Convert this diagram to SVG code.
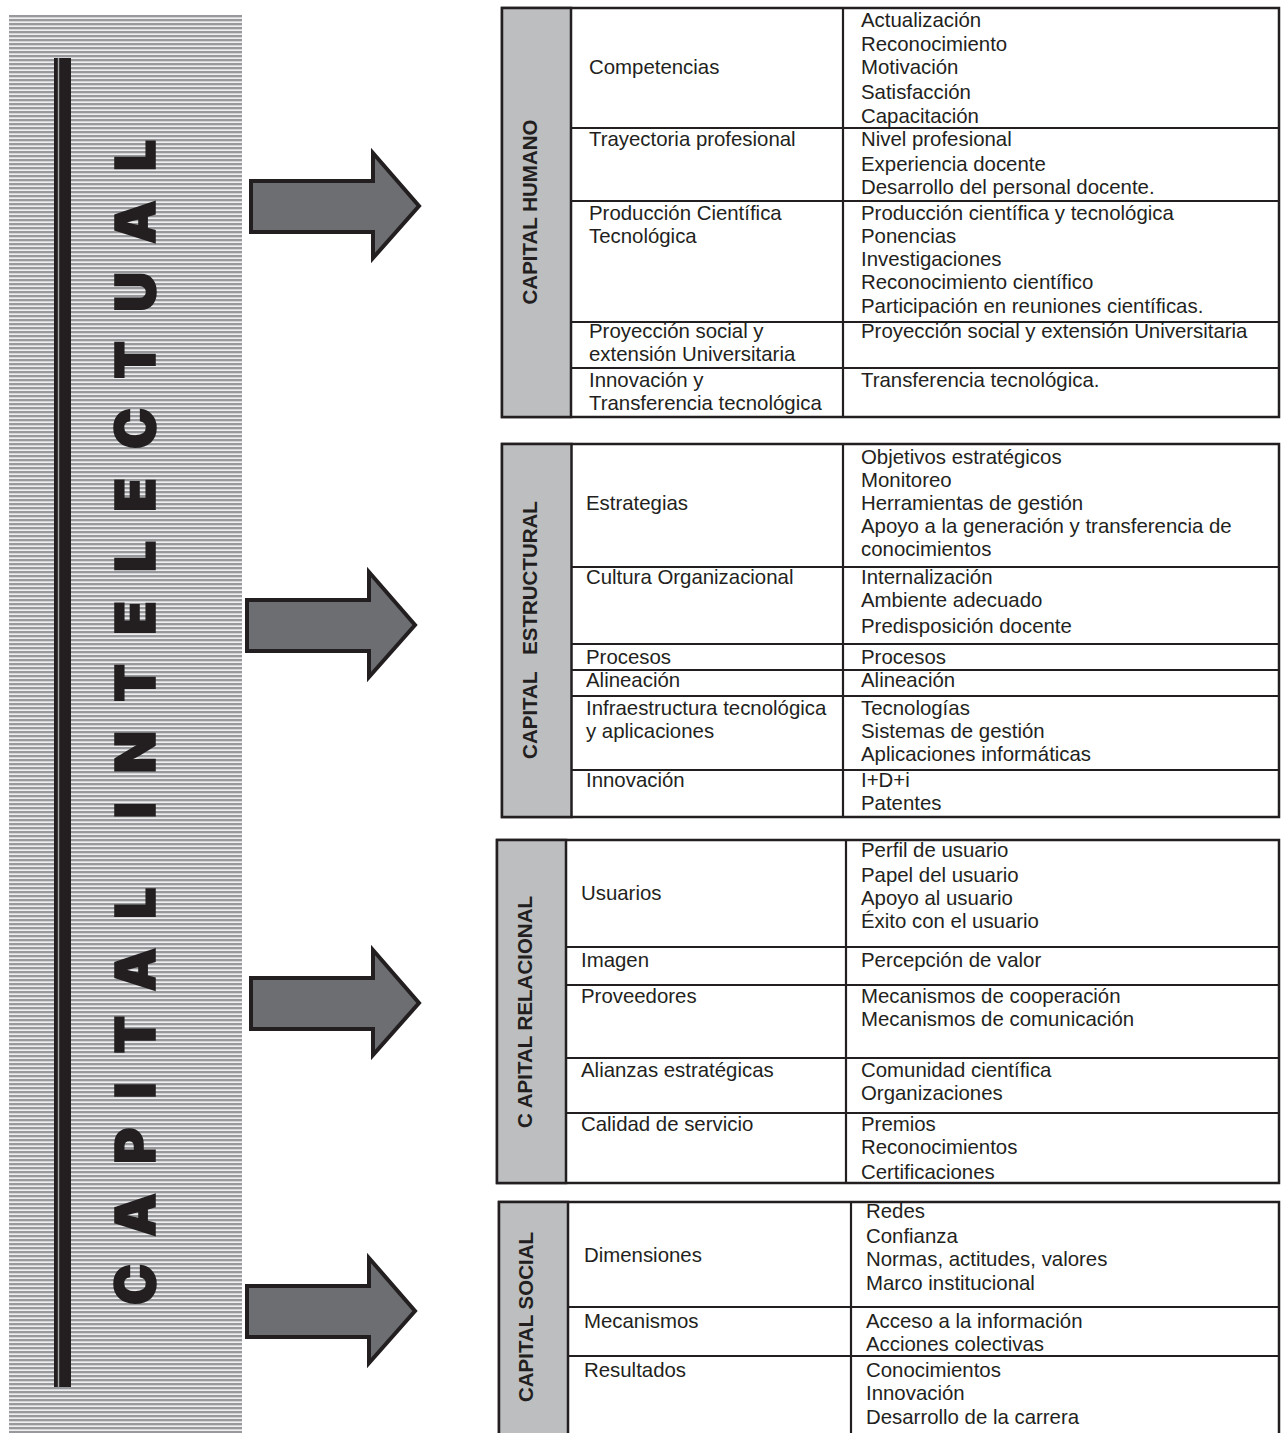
<svg xmlns="http://www.w3.org/2000/svg" width="1281" height="1433" viewBox="0 0 1281 1433">
<defs>
<pattern id="stripes" x="0" y="15" width="8" height="4" patternUnits="userSpaceOnUse">
<rect x="0" y="0" width="8" height="4" fill="#eeeeef"/>
<rect x="0" y="0" width="8" height="2.3" fill="#98999c"/>
</pattern>
<path id="arrow" d="M0,28 H122 V0 L168,53 L122,105 V79 H0 Z"/>
<style>
.tb{fill:#fff;stroke:#231f20;stroke-width:2.5}
.hd{fill:#bcbec0;stroke:#231f20;stroke-width:2.5}
.ln{stroke:#231f20;stroke-width:2.2;fill:none}
.t{font-family:"Liberation Sans",Arial,sans-serif;font-size:20.4px;fill:#231f20}
.h{font-family:"Liberation Sans",Arial,sans-serif;font-size:20.5px;font-weight:bold;fill:#231f20;text-anchor:middle}
.big{font-family:Inter,"Liberation Sans",Arial,sans-serif;font-size:55px;font-weight:900;fill:#231f20;stroke:#231f20;stroke-width:1.6;stroke-linejoin:miter}
.arr{fill:#6d6e71;stroke:#231f20;stroke-width:4;stroke-linejoin:miter}
</style>
</defs>
<rect width="1281" height="1433" fill="#fff"/>

<g id="banner">
<rect x="9" y="15" width="233" height="1418" fill="url(#stripes)"/>
<rect x="54" y="58" width="17" height="1329" fill="#231f20"/>
<rect x="57.8" y="58" width="1.4" height="1329" fill="#a7a9ac"/>
<text class="big" transform="translate(155,1305) rotate(-90)" textLength="1165" lengthAdjust="spacing">CAPITAL INTELECTUAL</text>
</g>

<g id="connectors">
<use href="#arrow" class="arr" transform="translate(251,153)"/>
<use href="#arrow" class="arr" transform="translate(247,572)"/>
<use href="#arrow" class="arr" transform="translate(251,950)"/>
<use href="#arrow" class="arr" transform="translate(247,1258)"/>
</g>

<g id="capital-humano">
<rect class="tb" x="502" y="8" width="777" height="409"/>
<rect class="hd" x="502" y="8" width="69" height="409"/>
<line class="ln" x1="843" y1="8" x2="843" y2="417"/>
<line class="ln" x1="571" y1="128" x2="1279" y2="128"/>
<line class="ln" x1="571" y1="201" x2="1279" y2="201"/>
<line class="ln" x1="571" y1="322" x2="1279" y2="322"/>
<line class="ln" x1="571" y1="368" x2="1279" y2="368"/>
<text class="h" transform="translate(537,212) rotate(-90)">CAPITAL HUMANO</text>
<text class="t" x="589" y="74">Competencias</text>
<text class="t" x="589" y="146">Trayectoria profesional</text>
<text class="t" x="589" y="220">Producción Científica</text>
<text class="t" x="589" y="243">Tecnológica</text>
<text class="t" x="589" y="338">Proyección social y</text>
<text class="t" x="589" y="361">extensión Universitaria</text>
<text class="t" x="589" y="387">Innovación y</text>
<text class="t" x="589" y="410">Transferencia tecnológica</text>
<text class="t" x="861" y="27">Actualización</text>
<text class="t" x="861" y="51">Reconocimiento</text>
<text class="t" x="861" y="74">Motivación</text>
<text class="t" x="861" y="99">Satisfacción</text>
<text class="t" x="861" y="123">Capacitación</text>
<text class="t" x="861" y="146">Nivel profesional</text>
<text class="t" x="861" y="171">Experiencia docente</text>
<text class="t" x="861" y="194">Desarrollo del personal docente.</text>
<text class="t" x="861" y="220">Producción científica y tecnológica</text>
<text class="t" x="861" y="243">Ponencias</text>
<text class="t" x="861" y="266">Investigaciones</text>
<text class="t" x="861" y="289">Reconocimiento científico</text>
<text class="t" x="861" y="313">Participación en reuniones científicas.</text>
<text class="t" x="861" y="338">Proyección social y extensión Universitaria</text>
<text class="t" x="861" y="387">Transferencia tecnológica.</text>
</g>

<g id="capital-estructural">
<rect class="tb" x="502" y="444" width="777" height="373"/>
<rect class="hd" x="502" y="444" width="69.5" height="373"/>
<line class="ln" x1="843" y1="444" x2="843" y2="817"/>
<line class="ln" x1="571.5" y1="567" x2="1279" y2="567"/>
<line class="ln" x1="571.5" y1="644" x2="1279" y2="644"/>
<line class="ln" x1="571.5" y1="670" x2="1279" y2="670"/>
<line class="ln" x1="571.5" y1="696" x2="1279" y2="696"/>
<line class="ln" x1="571.5" y1="770" x2="1279" y2="770"/>
<text class="h" transform="translate(537,630) rotate(-90)" xml:space="preserve">CAPITAL   ESTRUCTURAL</text>
<text class="t" x="586" y="510">Estrategias</text>
<text class="t" x="586" y="584">Cultura Organizacional</text>
<text class="t" x="586" y="664">Procesos</text>
<text class="t" x="586" y="687">Alineación</text>
<text class="t" x="586" y="715">Infraestructura tecnológica</text>
<text class="t" x="586" y="738">y aplicaciones</text>
<text class="t" x="586" y="787">Innovación</text>
<text class="t" x="861" y="464">Objetivos estratégicos</text>
<text class="t" x="861" y="487">Monitoreo</text>
<text class="t" x="861" y="510">Herramientas de gestión</text>
<text class="t" x="861" y="533">Apoyo a la generación y transferencia de</text>
<text class="t" x="861" y="556">conocimientos</text>
<text class="t" x="861" y="584">Internalización</text>
<text class="t" x="861" y="607">Ambiente adecuado</text>
<text class="t" x="861" y="633">Predisposición docente</text>
<text class="t" x="861" y="664">Procesos</text>
<text class="t" x="861" y="687">Alineación</text>
<text class="t" x="861" y="715">Tecnologías</text>
<text class="t" x="861" y="738">Sistemas de gestión</text>
<text class="t" x="861" y="761">Aplicaciones informáticas</text>
<text class="t" x="861" y="787">I+D+i</text>
<text class="t" x="861" y="810">Patentes</text>
</g>

<g id="capital-relacional">
<rect class="tb" x="497" y="840" width="782" height="343"/>
<rect class="hd" x="497" y="840" width="69" height="343"/>
<line class="ln" x1="846" y1="840" x2="846" y2="1183"/>
<line class="ln" x1="566" y1="947" x2="1279" y2="947"/>
<line class="ln" x1="566" y1="985" x2="1279" y2="985"/>
<line class="ln" x1="566" y1="1058" x2="1279" y2="1058"/>
<line class="ln" x1="566" y1="1113" x2="1279" y2="1113"/>
<text class="h" transform="translate(532,1012) rotate(-90)">C APITAL RELACIONAL</text>
<text class="t" x="581" y="900">Usuarios</text>
<text class="t" x="581" y="967">Imagen</text>
<text class="t" x="581" y="1003">Proveedores</text>
<text class="t" x="581" y="1077">Alianzas estratégicas</text>
<text class="t" x="581" y="1131">Calidad de servicio</text>
<text class="t" x="861" y="857">Perfil de usuario</text>
<text class="t" x="861" y="882">Papel del usuario</text>
<text class="t" x="861" y="905">Apoyo al usuario</text>
<text class="t" x="861" y="928">Éxito con el usuario</text>
<text class="t" x="861" y="967">Percepción de valor</text>
<text class="t" x="861" y="1003">Mecanismos de cooperación</text>
<text class="t" x="861" y="1026">Mecanismos de comunicación</text>
<text class="t" x="861" y="1077">Comunidad científica</text>
<text class="t" x="861" y="1100">Organizaciones</text>
<text class="t" x="861" y="1131">Premios</text>
<text class="t" x="861" y="1154">Reconocimientos</text>
<text class="t" x="861" y="1179">Certificaciones</text>
</g>

<g id="capital-social">
<rect class="tb" x="499" y="1202" width="780" height="250"/>
<rect class="hd" x="499" y="1202" width="69" height="250"/>
<line class="ln" x1="851" y1="1202" x2="851" y2="1433"/>
<line class="ln" x1="568" y1="1307" x2="1279" y2="1307"/>
<line class="ln" x1="568" y1="1356" x2="1279" y2="1356"/>
<text class="h" transform="translate(533,1317) rotate(-90)">CAPITAL SOCIAL</text>
<text class="t" x="584" y="1262">Dimensiones</text>
<text class="t" x="584" y="1328">Mecanismos</text>
<text class="t" x="584" y="1377">Resultados</text>
<text class="t" x="866" y="1218">Redes</text>
<text class="t" x="866" y="1243">Confianza</text>
<text class="t" x="866" y="1266">Normas, actitudes, valores</text>
<text class="t" x="866" y="1290">Marco institucional</text>
<text class="t" x="866" y="1328">Acceso a la información</text>
<text class="t" x="866" y="1351">Acciones colectivas</text>
<text class="t" x="866" y="1377">Conocimientos</text>
<text class="t" x="866" y="1400">Innovación</text>
<text class="t" x="866" y="1424">Desarrollo de la carrera</text>
</g>
</svg>
